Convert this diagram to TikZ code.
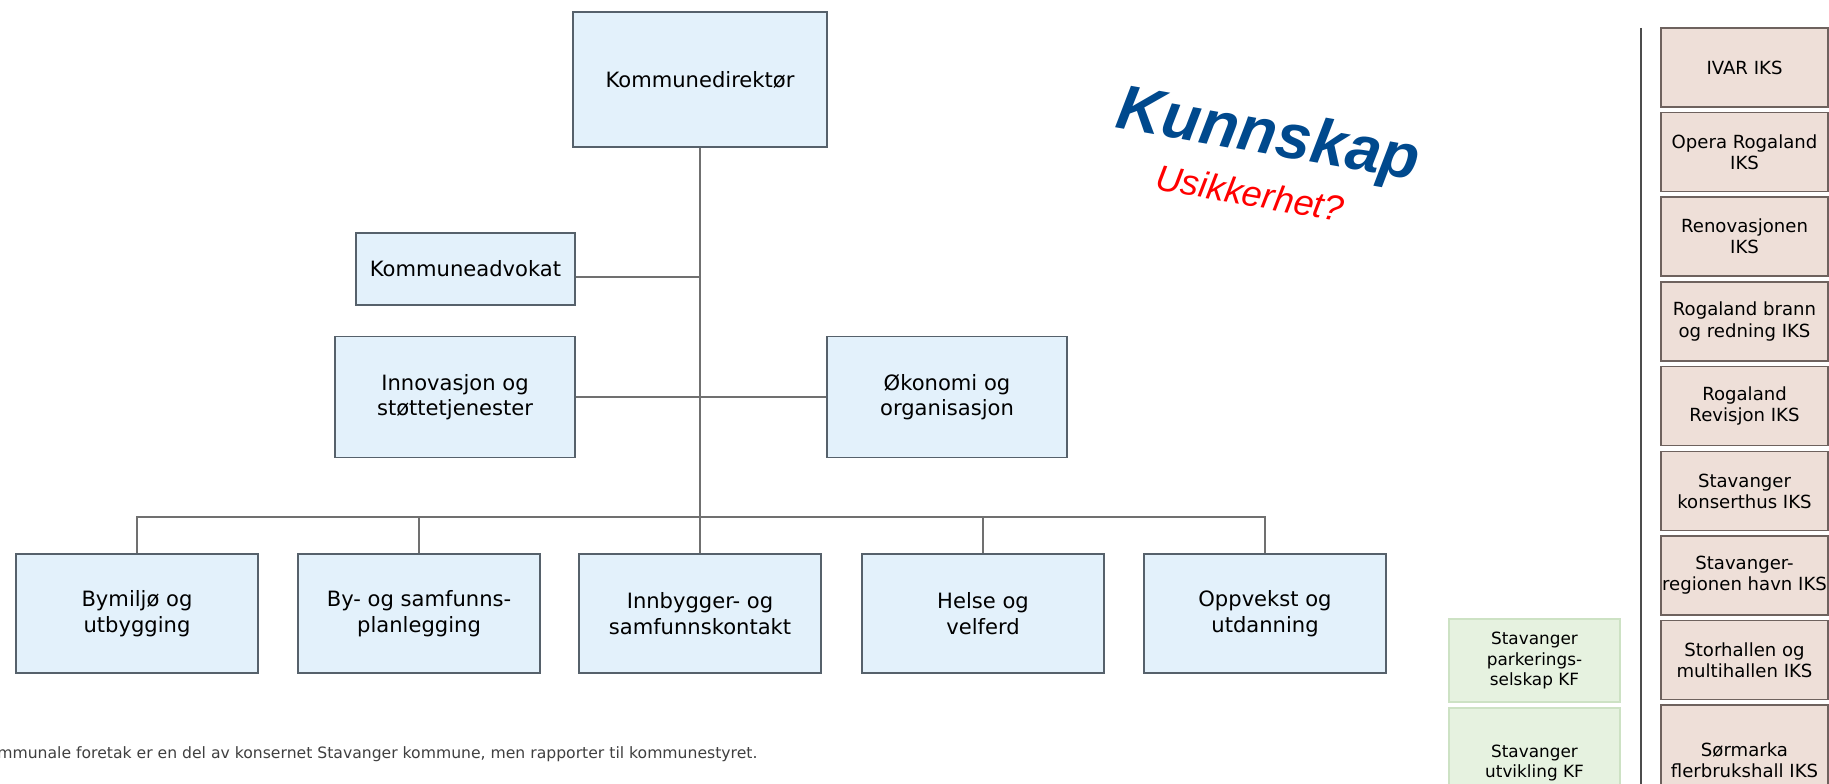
\documentclass[tikz,border=0pt]{standalone}
\usepackage{fontspec}
\setmainfont{DejaVu Sans}
\newfontfamily\headfont{Liberation Sans}
\definecolor{unitfill}{HTML}{E3F1FB}
\definecolor{unitline}{HTML}{56616B}
\definecolor{linkgrey}{HTML}{707070}
\definecolor{iksfill}{HTML}{EEDFD8}
\definecolor{iksline}{HTML}{6E625E}
\definecolor{kffill}{HTML}{E6F2E0}
\definecolor{kfline}{HTML}{CDE2C4}
\definecolor{kunnblue}{HTML}{00498D}
\tikzset{
  unit/.style={draw=unitline, fill=unitfill, line width=1.1pt, align=center, inner sep=0pt,
    font=\fontsize{12}{14.5}\selectfont},
  iks/.style={draw=iksline, fill=iksfill, line width=0.9pt, align=center, inner sep=0pt,
    minimum width=3.34cm, minimum height=1.58cm, font=\fontsize{10.3}{12}\selectfont},
  kf/.style={draw=kfline, fill=kffill, line width=0.8pt, align=center, inner sep=0pt,
    minimum width=3.42cm, font=\fontsize{9.6}{11.4}\selectfont},
  link/.style={draw=linkgrey, line width=0.8pt},
}
\begin{document}
\begin{tikzpicture}[x=0.02cm,y=-0.02cm]
\clip (0,0) rectangle (1829,784);
\fill[white] (0,0) rectangle (1829,784);
% administrasjon
\node[unit, minimum width=5.08cm, minimum height=2.7cm] (dir) at (700,79.5){Kommunedirektør};
\node[unit, minimum width=4.38cm, minimum height=1.44cm] (adv) at (465.5,269){Kommuneadvokat};
\node[unit, minimum width=4.8cm, minimum height=2.42cm] (inn) at (455,397){Innovasjon og\\støttetjenester};
\node[unit, minimum width=4.8cm, minimum height=2.42cm] (oko) at (947,397){Økonomi og\\organisasjon};
% tjenesteområder
\node[unit, minimum width=4.84cm, minimum height=2.38cm] (omr1) at (137,613.5){Bymiljø og\\utbygging};
\node[unit, minimum width=4.84cm, minimum height=2.38cm] (omr2) at (419,613.5){By- og samfunns-\\planlegging};
\node[unit, minimum width=4.84cm, minimum height=2.38cm] (omr3) at (700,613.5){Innbygger- og\\samfunnskontakt};
\node[unit, minimum width=4.84cm, minimum height=2.38cm] (omr4) at (983,613.5){Helse og\\velferd};
\node[unit, minimum width=4.84cm, minimum height=2.38cm] (omr5) at (1265,613.5){Oppvekst og\\utdanning};
\coordinate (bus) at (700,517);
\coordinate (advc) at ([yshift=-0.16cm]adv.east);
\draw[link](dir.south) -- (omr3.north);
\draw[link](advc) -- (advc -| dir.south);
\draw[link](inn.east) -- (oko.west);
\draw[link](omr1.north) |- (bus) -| (omr5.north);
\draw[link](omr2.north) -- (omr2.north |- bus);
\draw[link](omr4.north) -- (omr4.north |- bus);
% foretak
\node[kf, minimum height=1.66cm] (kf1) at (1534.5,660.5){Stavanger\\parkerings-\\selskap KF};
\node[kf, minimum height=2.2cm] (kf2) at (1534.5,763){Stavanger\\utvikling KF};
% skille
\coordinate (sepTop) at (1641,28);
\coordinate (sepBot) at (1641,790);
\draw[draw=black!70, line width=0.9pt](sepTop) -- (sepBot);
% interkommunale selskap
\node[iks] (iks1) at (1744.5,67.5){IVAR IKS};
\node[iks] (iks2) at (1744.5,152){Opera Rogaland\\IKS};
\node[iks] (iks3) at (1744.5,236.5){Renovasjonen\\IKS};
\node[iks] (iks4) at (1744.5,321.5){Rogaland brann\\og redning IKS};
\node[iks] (iks5) at (1744.5,406){Rogaland\\Revisjon IKS};
\node[iks] (iks6) at (1744.5,491){Stavanger\\konserthus IKS};
\node[iks] (iks7) at (1744.5,575.5){Stavanger-\\regionen havn IKS};
\node[iks] (iks8) at (1744.5,660){Storhallen og\\multihallen IKS};
\node[iks, minimum height=2.2cm] (iks9) at (1744.5,760){Sørmarka\\flerbrukshall IKS};
% merknad
\node[anchor=west, inner sep=0pt, text=black!75, font=\fontsize{8.9}{10}\selectfont] (note) at (-3,754){mmunale foretak er en del av konsernet Stavanger kommune, men rapporter til kommunestyret.};
% stempel
\node[rotate=-10, text=kunnblue, font=\headfont\bfseries\itshape\fontsize{36}{40}\selectfont] (kunn) at (1268,138){Kunnskap};
\node[rotate=-10, text=red, font=\headfont\itshape\fontsize{20.5}{24}\selectfont] (usik) at (1250,193){Usikkerhet?};
\end{tikzpicture}
\end{document}
